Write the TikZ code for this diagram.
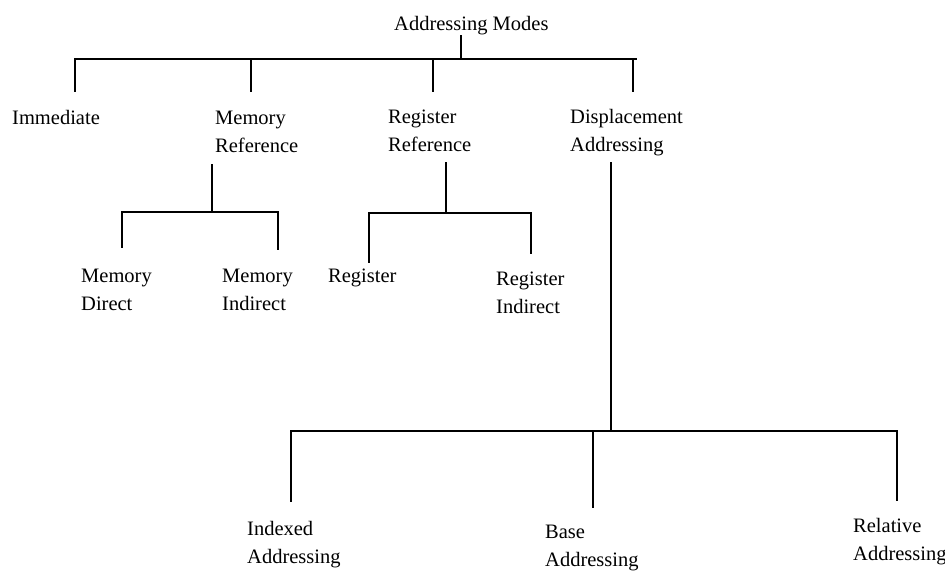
\documentclass[tikz,border=0pt]{standalone}
\usepackage{fontspec}
\setmainfont{Liberation Serif}
\begin{document}
\begin{tikzpicture}[x=1pt,y=-1pt,
  lbl/.style={anchor=base west, inner sep=0pt, font=\fontsize{20.5}{28}\selectfont},
  conn/.style={line width=1.6pt, line cap=rect, line join=miter}]
\useasboundingbox[fill=white] (0,0) rectangle (945,573);
\newcommand{\twoline}[2]{\begin{tabular}[t]{@{}l@{}}#1\\#2\end{tabular}}
% labels
\node[lbl] (root) at (394,30) {Addressing Modes};
\node[lbl] (imm)  at (12,124) {Immediate};
\node[lbl] (mref) at (215,124) {\twoline{Memory}{Reference}};
\node[lbl] (rref) at (388,123) {\twoline{Register}{Reference}};
\node[lbl] (disp) at (570,123) {\twoline{Displacement}{Addressing}};
\node[lbl] (mdir) at (81,282) {\twoline{Memory}{Direct}};
\node[lbl] (mind) at (222,282) {\twoline{Memory}{Indirect}};
\node[lbl] (reg)  at (328,282) {Register};
\node[lbl] (rind) at (496,285) {\twoline{Register}{Indirect}};
\node[lbl] (idx)  at (247,535) {\twoline{Indexed}{Addressing}};
\node[lbl] (base) at (545,538) {\twoline{Base}{Addressing}};
\node[lbl] (rel)  at (853,532) {\twoline{Relative}{Addressing}};
% junction coordinates
\coordinate (rootS) at (461,36);
\coordinate (rootJ) at (461,59);
\coordinate (busL) at (75,59);
\coordinate (busR) at (636,59);
\coordinate (immT) at (75,91);
\coordinate (mrefJ) at (251,59);  \coordinate (mrefT) at (251,91);
\coordinate (rrefJ) at (433,59);  \coordinate (rrefT) at (433,91);
\coordinate (dispJ) at (633,59);  \coordinate (dispT) at (633,91);
% memory reference subtree
\coordinate (mrefS) at (212,165); \coordinate (mrefB) at (212,212);
\coordinate (mdirJ) at (122,212); \coordinate (mdirT) at (122,247);
\coordinate (mindJ) at (278,212); \coordinate (mindT) at (278,249);
% register reference subtree
\coordinate (rrefS) at (446,163); \coordinate (rrefB) at (446,213);
\coordinate (regJ) at (369,213);  \coordinate (regT) at (369,262);
\coordinate (rindJ) at (531,213); \coordinate (rindT) at (531,253);
% displacement subtree
\coordinate (dispS) at (611,163); \coordinate (dispB) at (611,431);
\coordinate (idxJ) at (291,431);  \coordinate (idxT) at (291,501);
\coordinate (baseJ) at (593,431); \coordinate (baseT) at (593,507);
\coordinate (relJ) at (897,431);  \coordinate (relT) at (897,500);
% connectors
\draw[conn] (rootS) -- (rootJ);
\draw[conn] (busL) -- (busR);
\draw[conn] (busL) -- (immT);
\draw[conn] (mrefJ) -- (mrefT);
\draw[conn] (rrefJ) -- (rrefT);
\draw[conn] (dispJ) -- (dispT);
\draw[conn] (mrefS) -- (mrefB);
\draw[conn] (mdirT) -- (mdirJ) -- (mindJ) -- (mindT);
\draw[conn] (rrefS) -- (rrefB);
\draw[conn] (regT) -- (regJ) -- (rindJ) -- (rindT);
\draw[conn] (dispS) -- (dispB);
\draw[conn] (idxT) -- (idxJ) -- (relJ) -- (relT);
\draw[conn] (baseJ) -- (baseT);
\end{tikzpicture}
\end{document}
